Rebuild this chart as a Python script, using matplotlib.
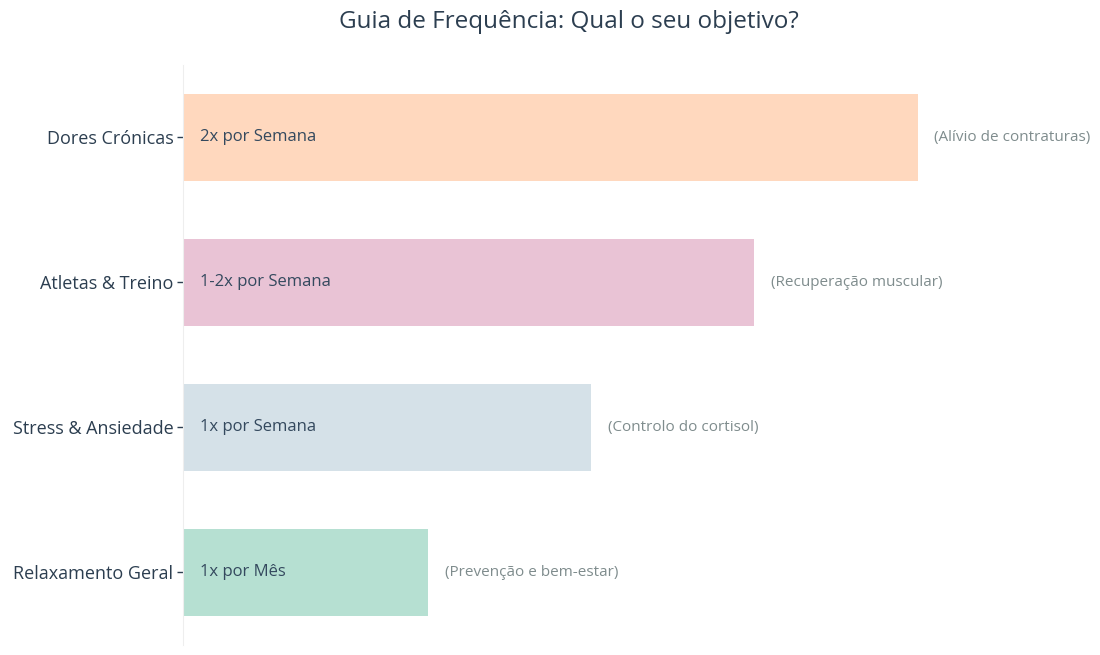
import matplotlib
matplotlib.use("Agg")
from matplotlib import pyplot as plt

# Data
categories = ["Dores Crónicas", "Atletas & Treino", "Stress & Ansiedade", "Relaxamento Geral"]
scores = [9, 7, 5, 3]
freq_labels = ["2x por Semana", "1-2x por Semana", "1x por Semana", "1x por Mês"]
notes = ["(Alívio de contraturas)", "(Recuperação muscular)", "(Controlo do cortisol)", "(Prevenção e bem-estar)"]
colors = ["#FFD8BE", "#E9C3D5", "#D5E1E8", "#B6E0D2"]

plt.rcParams['font.family'] = ['Open Sans', 'DejaVu Sans']

fig = plt.figure(figsize=(11, 6.55), dpi=100)
ax = fig.add_axes([0.1664, 0.0153, 0.8236, 0.8855])

ypos = list(range(len(categories)))
ax.barh(ypos, scores, height=0.6, color=colors)

for y, v, lab, note in zip(ypos, scores, freq_labels, notes):
    ax.annotate(lab, xy=(0, y), xytext=(12, 0), textcoords='offset points',
                va='center', ha='left', fontsize=12, color='#34495e')
    ax.annotate(note, xy=(v, y), xytext=(12, 0), textcoords='offset points',
                va='center', ha='left', fontsize=11, color='#7f8c8d')

ax.set_yticks(ypos)
ax.set_yticklabels(categories, fontsize=13, color='#2c3e50')
ax.set_ylim(3.5, -0.5)
ax.set_xlim(0, 11.1)
ax.set_xticks([])
ax.tick_params(axis='y', length=4, width=1, color='#2c3e50', pad=3)

for s in ['top', 'right', 'bottom']:
    ax.spines[s].set_visible(False)
ax.spines['left'].set_color('#eeeeee')

fig.suptitle("Guia de Frequência: Qual o seu objetivo?", fontsize=17.5, color='#2c3e50',
             x=0.517, y=0.985)

fig.savefig("out.png", dpi=100)
